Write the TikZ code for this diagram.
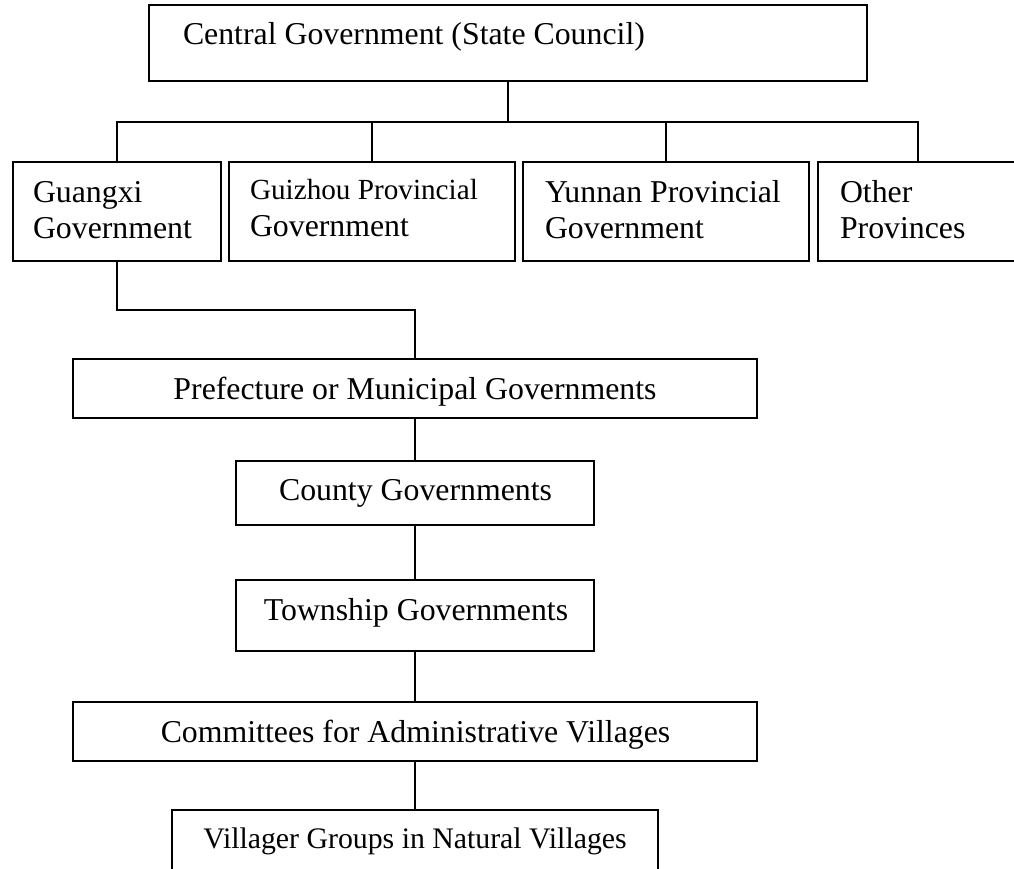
\documentclass[tikz,border=0pt]{standalone}
\usepackage{fontspec}
\setmainfont{Liberation Serif}
\begin{document}
\begin{tikzpicture}[x=1pt,y=-1pt,
  box/.style={draw=black,line width=1.6pt,rectangle,inner sep=0pt,outer sep=0pt,anchor=north west},
  conn/.style={draw=black,line width=1.5pt},
  lbl/.style={inner sep=0pt,outer sep=0pt,anchor=base west,font=\fontsize{31.8}{36}\selectfont},
  clbl/.style={inner sep=0pt,outer sep=0pt,anchor=base,font=\fontsize{31.8}{36}\selectfont}]
\useasboundingbox (0,0) rectangle (1014,869);
\clip (0,0) rectangle (1014,869);
% boxes
\node[box,minimum width=718pt,minimum height=76pt] (central) at (149,5) {};
\node[box,minimum width=208pt,minimum height=99pt] (guangxi) at (13,162) {};
\node[box,minimum width=286pt,minimum height=99pt] (guizhou) at (229,162) {};
\node[box,minimum width=286pt,minimum height=99pt] (yunnan) at (523,162) {};
\node[box,minimum width=200pt,minimum height=99pt] (other) at (818,162) {};
\node[box,minimum width=684pt,minimum height=59pt] (prefecture) at (73,359) {};
\node[box,minimum width=358pt,minimum height=64pt] (county) at (236,461) {};
\node[box,minimum width=358pt,minimum height=71pt] (township) at (236,580) {};
\node[box,minimum width=684pt,minimum height=59pt] (committees) at (73,702) {};
\node[box,minimum width=486pt,minimum height=90pt] (villager) at (172,810) {};
% texts
\node[lbl] (tcentral) at (183,45) {Central Government (State Council)};
\node[lbl] (tguangxia) at (33,202) {Guangxi};
\node[lbl] (tguangxib) at (33,238) {Government};
\node[lbl,font=\fontsize{29.2}{34}\selectfont] (tguizhoua) at (250,200) {Guizhou Provincial};
\node[lbl] (tguizhoub) at (250,236) {Government};
\node[lbl] (tyunnana) at (545,202) {Yunnan Provincial};
\node[lbl] (tyunnanb) at (545,238) {Government};
\node[lbl] (tothera) at (840,202) {Other};
\node[lbl] (totherb) at (840,238) {Provinces};
\node[clbl] (tprefecture) at (415,399) {Prefecture or Municipal Governments};
\node[clbl] (tcounty) at (415.5,500) {County Governments};
\node[clbl] (ttownship) at (416,620) {Township Governments};
\node[clbl] (tcommittees) at (415.5,742) {Committees for Administrative Villages};
\node[clbl,font=\fontsize{29.8}{34}\selectfont] (tvillager) at (415,848) {Villager Groups in Natural Villages};
% connectors
\coordinate (bus) at (508,122);
\coordinate (elbow) at (415,310);
\draw[conn] (central.south) -- (bus);
\draw[conn] (guangxi.north) -- (guangxi.north |- bus) -- (other.north |- bus) -- (other.north);
\draw[conn] (guizhou.north) -- (guizhou.north |- bus);
\draw[conn] (yunnan.north) -- (yunnan.north |- bus);
\draw[conn] (guangxi.south) |- (elbow) -- (prefecture.north);
\draw[conn] (prefecture.south) -- (prefecture.south |- county.north);
\draw[conn] (county.south) -- (county.south |- township.north);
\draw[conn] (township.south) -- (township.south |- committees.north);
\draw[conn] (committees.south) -- (committees.south |- villager.north);
\end{tikzpicture}
\end{document}
